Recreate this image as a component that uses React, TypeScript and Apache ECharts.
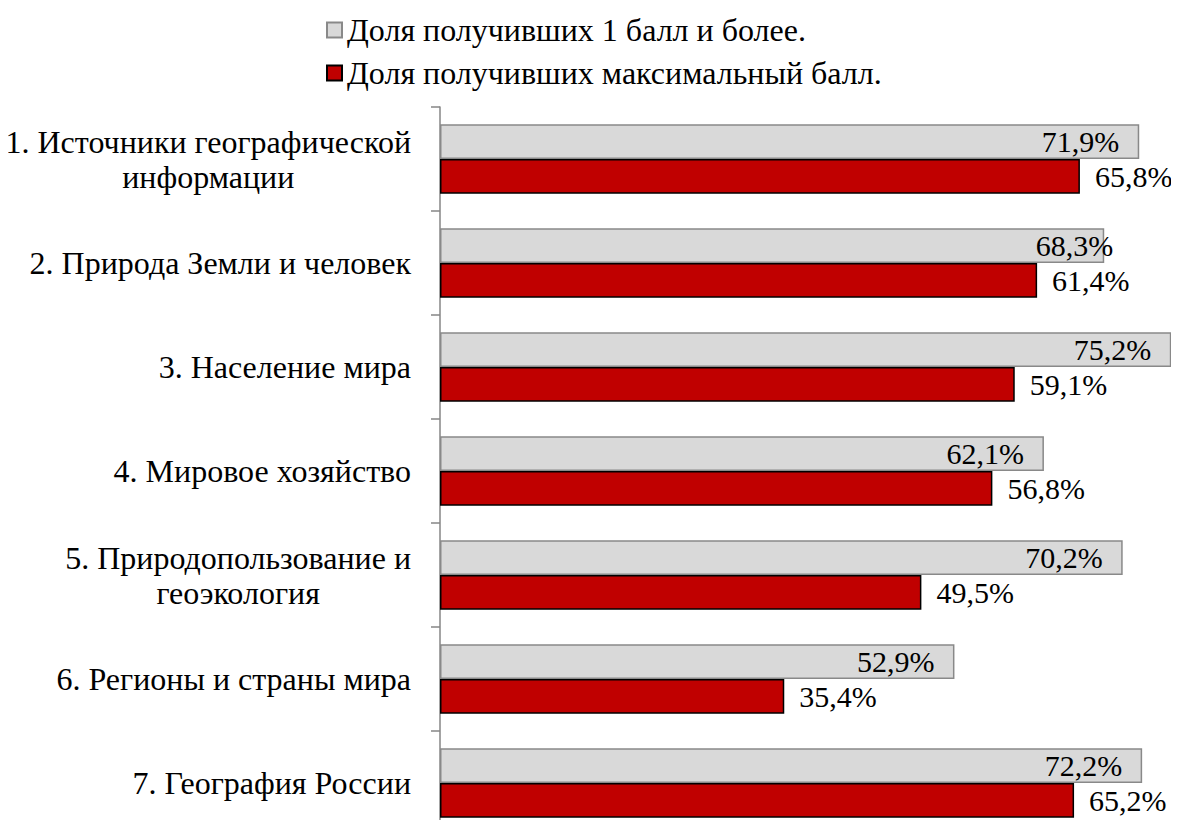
import React, { useEffect, useRef } from "react";
import * as echarts from "echarts";

const categories = [
  "1. Источники географической\nинформации",
  "2. Природа Земли и человек",
  "3. Население мира",
  "4. Мировое хозяйство",
  "5. Природопользование и\nгеоэкология",
  "6. Регионы и страны мира",
  "7. География России",
];
const seriesNames = ["Доля получивших 1 балл и более.", "Доля получивших максимальный балл."];
const anyScore = [71.9, 68.3, 75.2, 62.1, 70.2, 52.9, 72.2];
const maxScore = [65.8, 61.4, 59.1, 56.8, 49.5, 35.4, 65.2];

const FONT = "Liberation Serif";
const fmt = (v: number) => v.toFixed(1).replace(".", ",") + "%";

export default function App() {
  const ref = useRef<HTMLDivElement>(null);
  useEffect(() => {
    if (!ref.current) return;
    const chart = echarts.init(ref.current, undefined, { renderer: "svg" });
    chart.setOption({
      animation: false,
      backgroundColor: "#ffffff",
      textStyle: { fontFamily: FONT },
      legend: {
        orient: "vertical",
        left: 321,
        top: 9,
        itemWidth: 15,
        itemHeight: 15,
        itemGap: 11,
        icon: "rect",
        textStyle: { fontFamily: FONT, fontSize: 32, lineHeight: 32, color: "#000" },
        data: seriesNames,
      },
      grid: { left: 440, top: 107, width: 778, height: 728, outerBoundsMode: "none", containLabel: false },
      xAxis: {
        type: "value",
        min: 0,
        max: 80,
        show: false,
      },
      yAxis: {
        type: "category",
        inverse: true,
        data: categories,
        axisLine: { show: true, lineStyle: { color: "#868686", width: 1.5 } },
        axisTick: { show: true, length: 9, lineStyle: { color: "#868686", width: 1.5 } },
        axisLabel: {
          margin: 29,
          fontFamily: FONT,
          fontSize: 32,
          color: "#000",
          lineHeight: 35,
          formatter: (v: string) =>
            v
              .split("\n")
              .map((l) => "{c|" + l + "}")
              .join("\n"),
          rich: {
            c: { align: "center", fontFamily: FONT, fontSize: 32, color: "#000", lineHeight: 35 },
          },
        },
        splitLine: { show: false },
      },
      series: [
        {
          name: seriesNames[0],
          type: "bar",
          barGap: "0%",
          barCategoryGap: "33%",
          itemStyle: { color: "#d9d9d9", borderColor: "#898989", borderWidth: 1.5 },
          label: {
            show: true,
            position: "insideRight",
            distance: 20,
            fontFamily: FONT,
            fontSize: 30,
            color: "#000",
            formatter: (p: any) => fmt(p.value),
          },
          data: anyScore.map((v, i) =>
            i === 1 ? { value: v, label: { offset: [29, 0] } } : v
          ),
        },
        {
          name: seriesNames[1],
          type: "bar",
          itemStyle: { color: "#c00000", borderColor: "#000000", borderWidth: 1.5 },
          label: {
            show: true,
            position: "right",
            distance: 15,
            fontFamily: FONT,
            fontSize: 30,
            color: "#000",
            formatter: (p: any) => fmt(p.value),
          },
          data: maxScore,
        },
      ],
    });
    return () => chart.dispose();
  }, []);
  return <div ref={ref} style={{ width: 1179, height: 828, margin: -8 }} />;
}
